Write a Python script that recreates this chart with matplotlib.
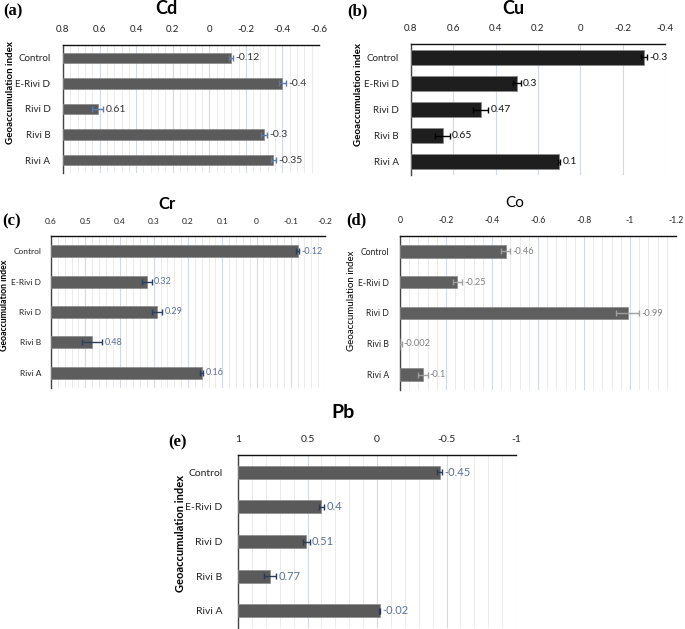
import numpy as np
import matplotlib
matplotlib.use('Agg')
import matplotlib.pyplot as plt
from matplotlib.ticker import MultipleLocator, FuncFormatter

plt.rcParams['font.family'] = ['Lato', 'DejaVu Sans']

W, H = 685, 629

sites = ['Control', 'E-Rivi D', 'Rivi D', 'Rivi B', 'Rivi A']

cd_vals = [-0.12, -0.4, 0.61, -0.3, -0.35]
cd_err = [0.01, 0.02, 0.03, 0.015, 0.015]
cu_vals = [-0.3, 0.3, 0.47, 0.65, 0.1]
cu_err = [0.015, 0.02, 0.035, 0.035, 0.005]
cr_vals = [-0.12, 0.32, 0.29, 0.48, 0.16]
cr_err = [0.005, 0.015, 0.015, 0.03, 0.005]
co_vals = [-0.46, -0.25, -0.99, -0.002, -0.1]
co_err = [0.02, 0.02, 0.05, 0.005, 0.02]
pb_vals = [-0.45, 0.4, 0.51, 0.77, -0.02]
pb_err = [0.02, 0.02, 0.025, 0.045, 0.005]

fig = plt.figure(figsize=(W / 100, H / 100), dpi=100)


def px_axes(l, t, r, b):
    return fig.add_axes([l / W, 1 - b / H, (r - l) / W, (b - t) / H])


def fmt(v, pos):
    v = round(v, 3)
    if v == 0:
        return '0'
    return f'{v:g}'


def panel(box, vals, err, xlim, major, minor, bar_h, bar_c, err_c, lab_c, fs,
          grid_minor=True, ypad=9):
    ax = px_axes(*box)
    y = np.arange(len(sites))
    left = xlim[0]
    ax.set_xlim(*xlim)
    ax.set_ylim(len(sites) - 0.5, -0.5)
    ax.barh(y, np.array(vals) - left, left=left, height=bar_h, color=bar_c,
            edgecolor='#8a8a8a', linewidth=0.5, zorder=3)
    ax.errorbar(vals, y, xerr=err, fmt='none', ecolor=err_c, elinewidth=1,
                capsize=2, capthick=1, zorder=4)
    for i, v in enumerate(vals):
        ax.annotate(f'{v:g}', xy=(v - err[i], i), xytext=(1.5, 0),
                    textcoords='offset points', ha='left', va='center',
                    fontsize=fs + 0.5, color=lab_c, zorder=5)
    ax.xaxis.set_major_locator(MultipleLocator(major))
    ax.xaxis.set_major_formatter(FuncFormatter(fmt))
    ax.xaxis.tick_top()
    ax.grid(axis='x', which='major', color='#d3dae5', linewidth=0.8, zorder=0)
    if grid_minor:
        ax.xaxis.set_minor_locator(MultipleLocator(minor))
        ax.grid(axis='x', which='minor', color='#e8e8e8', linewidth=0.6, zorder=0)
    ax.set_yticks(y)
    ax.set_yticklabels(sites)
    ax.tick_params(axis='both', which='both', length=0, labelsize=fs,
                   colors='#222222')
    ax.tick_params(axis='x', pad=8)
    ax.tick_params(axis='y', pad=ypad)
    for s in ['right', 'bottom']:
        ax.spines[s].set_visible(False)
    ax.spines['top'].set_color('#111111')
    ax.spines['left'].set_color('#444444')
    ax.spines['top'].set_linewidth(1)
    ax.spines['left'].set_linewidth(1)
    return ax


def ftext(x, y, s, **kw):
    fig.text(x / W, 1 - y / H, s, **kw)


panel((63, 45, 319, 173), cd_vals, cd_err, (0.8, -0.6), 0.2, 0.04, 0.4,
      '#5b5b5b', '#5b7bb0', '#333333', 7)
panel((411, 44, 665, 175), cu_vals, cu_err, (0.8, -0.4), 0.2, 0.04, 0.57,
      '#1e1e1e', '#000000', '#111111', 7, grid_minor=False)
panel((51, 236, 325, 388), cr_vals, cr_err, (0.6, -0.2), 0.1, 0.02, 0.4,
      '#5d5d5d', '#2c3e5c', '#5b6f94', 6, ypad=7)
panel((400, 236, 676, 390), co_vals, co_err, (0, -1.2), 0.2, 0.04, 0.4,
      '#5f5f5f', '#a0a0a0', '#808080', 6.2, ypad=8)
panel((238, 455, 516, 628), pb_vals, pb_err, (1, -1), 0.5, 0.1, 0.38,
      '#5a5a5a', '#2b3a55', '#5b6f94', 7.5, ypad=11)

# titles
ftext(166, 9, 'Cd', fontsize=13, fontweight='bold', ha='center', va='center')
ftext(513, 9, 'Cu', fontsize=13, fontweight='bold', ha='center', va='center')
ftext(167, 204, 'Cr', fontsize=12, fontweight='bold', ha='center', va='center')
ftext(515, 203, 'Co', fontsize=11, ha='center', va='center')
ftext(343, 412, 'Pb', fontsize=14, fontweight='bold', ha='center', va='center')

# panel letters
serif = dict(family=['Liberation Serif', 'DejaVu Serif'], fontweight='bold',
             fontsize=12, ha='left', va='center')
ftext(3, 11, '(a)', **serif)
ftext(347, 11, '(b)', **serif)
ftext(2, 221, '(c)', **serif)
ftext(346, 220, '(d)', **serif)
ftext(168, 442, '(e)', **serif)

# y labels
yl = 'Geoaccumulation index'
ftext(11, 92, yl, rotation=90, fontsize=7, fontweight='bold', ha='center', va='center')
ftext(358, 94, yl, rotation=90, fontsize=7, fontweight='bold', ha='center', va='center')
ftext(5, 305, yl, rotation=90, fontsize=6.3, fontweight='bold', ha='center', va='center')
ftext(352, 301, yl, rotation=90, fontsize=7, ha='center', va='center')
ftext(180, 534, yl, rotation=90, fontsize=8, fontweight='bold', ha='center', va='center')

fig.savefig('out.png', dpi=100)
